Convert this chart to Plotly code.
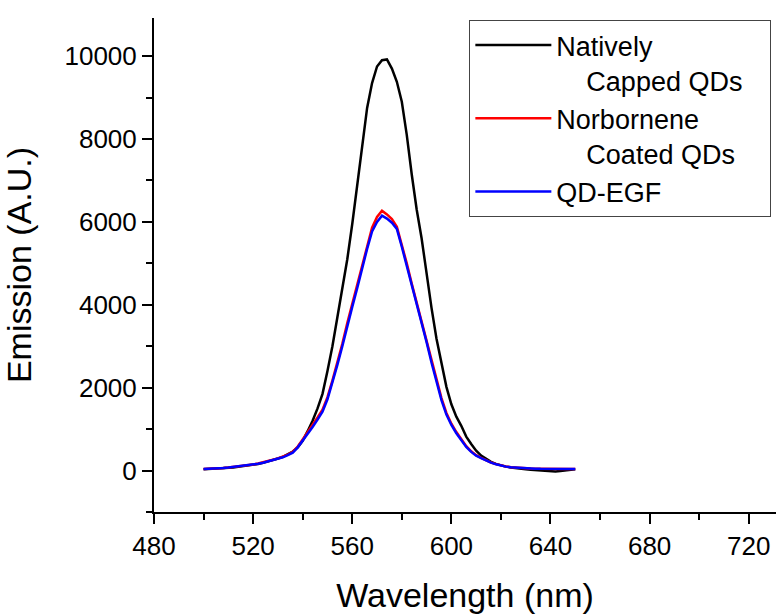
import plotly.graph_objects as go

wavelength = list(range(500, 652, 2))

natively_capped = [30, 35, 40, 45, 55, 65, 75, 90, 105, 120,
                   140, 160, 185, 215, 250, 290, 330, 390, 460, 560,
                   720, 950, 1200, 1500, 1850, 2400, 3000, 3700, 4400, 5100,
                   5950, 6900, 7900, 8750, 9350, 9750, 9900, 9920, 9700, 9380,
                   8900, 8100, 7150, 6300, 5600, 4740, 3920, 3180, 2570, 2020,
                   1600, 1300, 1080, 820, 640, 480, 360, 280, 210, 160,
                   120, 95, 75, 55, 40, 30, 20, 10, 0, -10,
                   -20, -20, -10, 5, 20, 30]

norbornene_coated = [40, 42, 48, 55, 62, 72, 85, 97, 110, 125,
                     145, 170, 195, 225, 260, 295, 335, 385, 450, 580,
                     750, 920, 1100, 1280, 1470, 1770, 2170, 2600, 3060, 3560,
                     4020, 4480, 4980, 5430, 5860, 6120, 6270, 6180, 6070, 5880,
                     5450, 5000, 4510, 4060, 3610, 3160, 2660, 2200, 1750, 1390,
                     1130, 930, 745, 590, 465, 370, 305, 245, 195, 155,
                     118, 97, 82, 70, 60, 55, 48, 45, 42, 40,
                     38, 37, 37, 38, 40, 40]

qd_egf = [40, 42, 48, 55, 62, 72, 85, 97, 110, 125,
          140, 165, 190, 220, 250, 285, 320, 370, 430, 560,
          720, 880, 1050, 1230, 1420, 1720, 2120, 2550, 3000, 3500,
          3950, 4400, 4900, 5350, 5770, 6000, 6150, 6080, 5980, 5830,
          5400, 4950, 4450, 4000, 3550, 3100, 2600, 2150, 1700, 1350,
          1100, 900, 720, 570, 450, 360, 300, 240, 190, 150,
          115, 95, 80, 70, 60, 55, 48, 45, 42, 40,
          38, 37, 37, 38, 40, 40]

series_names = ["Natively<br>&nbsp;&nbsp;&nbsp;&nbsp;Capped QDs&nbsp;&nbsp;&nbsp;",
                "Norbornene<br>&nbsp;&nbsp;&nbsp;&nbsp;Coated QDs",
                "QD-EGF"]
series_colors = ["#000000", "#ff0000", "#0000ff"]

x_major_ticks = [480, 520, 560, 600, 640, 680, 720]
y_major_ticks = [0, 2000, 4000, 6000, 8000, 10000]
y_tick_labels = ["0", "2000", "4000", "6000", "8000", "10000"]

FONT = "Arial, Liberation Sans, sans-serif"

fig = go.Figure()
for name, vals, col in zip(series_names, [natively_capped, norbornene_coated, qd_egf], series_colors):
    fig.add_trace(go.Scatter(x=wavelength, y=vals, mode="lines", name=name,
                             line=dict(color=col, width=2.5)))

fig.update_layout(
    width=780, height=614,
    margin=dict(l=154, r=4, t=18, b=102),
    paper_bgcolor="white", plot_bgcolor="white",
    font=dict(family=FONT, color="black"),
    showlegend=True,
    legend=dict(x=0.507, y=0.996, xanchor="left", yanchor="top",
                bordercolor="#444444", borderwidth=1, bgcolor="white",
                font=dict(size=27, family=FONT, color="black"),
                itemwidth=76, valign="top", tracegroupgap=0),
)
fig.update_xaxes(
    range=[480, 731], showgrid=False, zeroline=False, automargin=False,
    showline=True, linecolor="black", linewidth=2,
    tickmode="array", tickvals=x_major_ticks,
    ticks="outside", ticklen=10, tickwidth=2, tickcolor="black",
    tickfont=dict(size=26, family=FONT, color="black"),
    minor=dict(dtick=20, tick0=480, ticks="outside", ticklen=6, tickwidth=2, tickcolor="black"),
    title=dict(text="Wavelength (nm)", font=dict(size=34, family=FONT, color="black"), standoff=26),
)
fig.update_yaxes(
    range=[-1000, 10920], showgrid=False, zeroline=False, automargin=False,
    showline=True, linecolor="black", linewidth=2,
    tickmode="array", tickvals=y_major_ticks, ticktext=y_tick_labels,
    ticks="outside", ticklen=10, tickwidth=2, tickcolor="black",
    tickfont=dict(size=26, family=FONT, color="black"),
    minor=dict(dtick=1000, tick0=-1000, ticks="outside", ticklen=6, tickwidth=2, tickcolor="black"),
    title=dict(text="Emission (A.U.)", font=dict(size=34, family=FONT, color="black"), standoff=24),
)

fig.write_html("out.html",
               config={"displayModeBar": False},
               post_script="document.body.style.margin='0';document.body.style.overflow='hidden';")
